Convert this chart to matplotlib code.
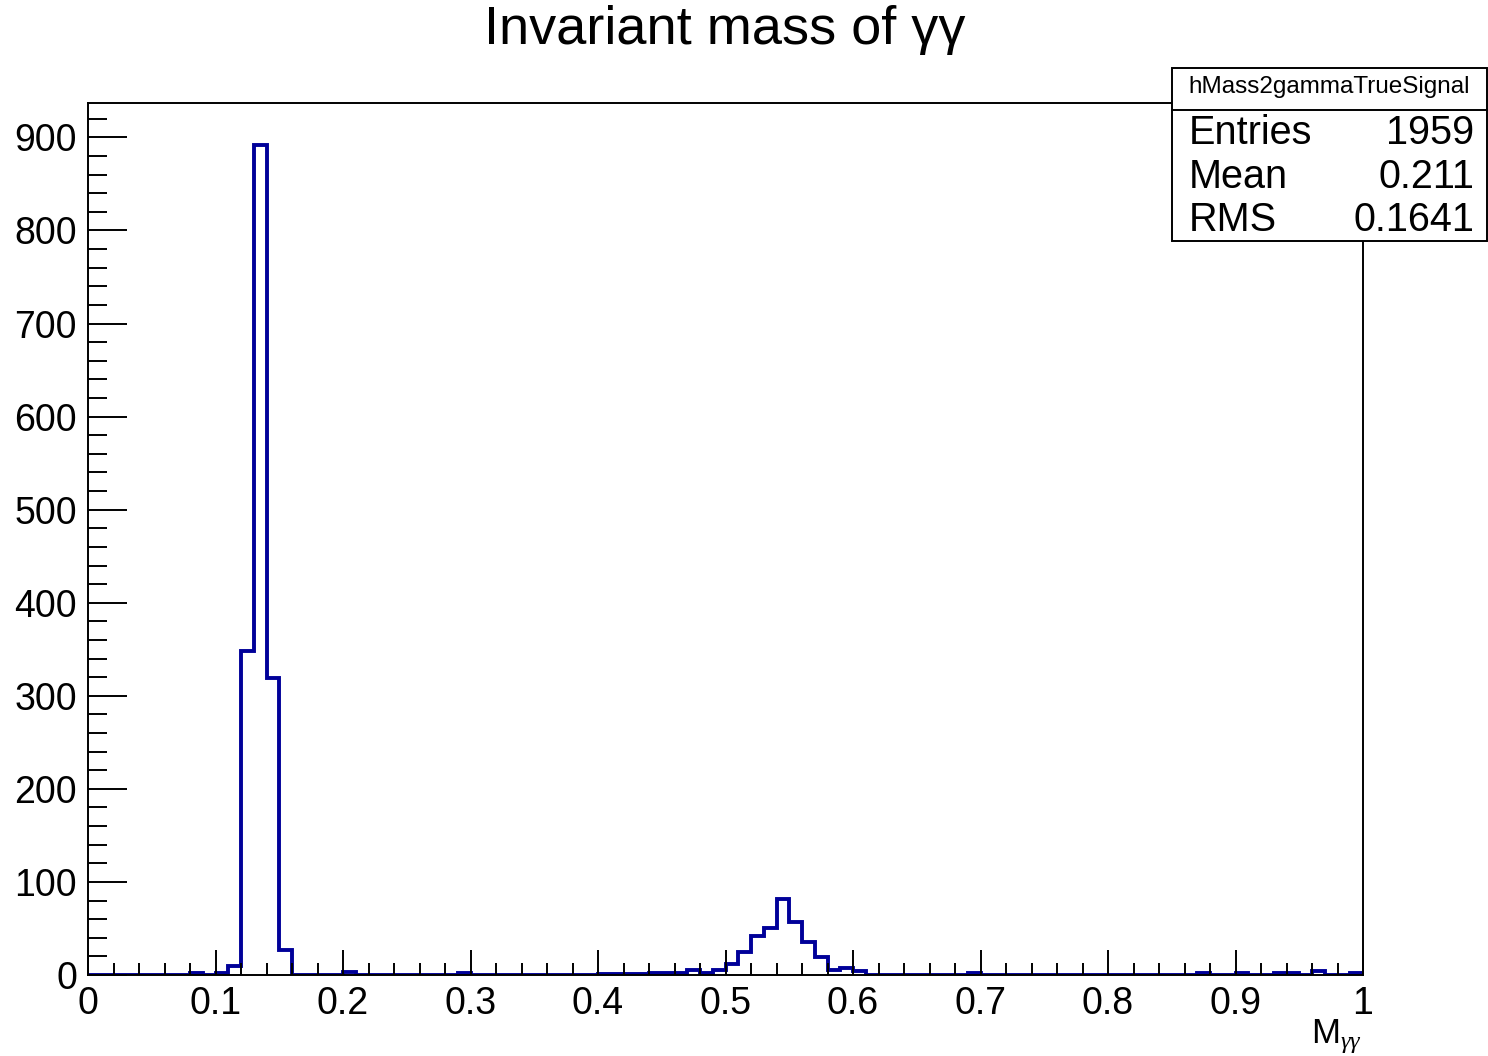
import matplotlib
matplotlib.use('Agg')
import matplotlib.pyplot as plt
import numpy as np
from matplotlib.patches import Rectangle
from matplotlib.ticker import MultipleLocator

plt.rcParams['font.family'] = ['Liberation Sans', 'DejaVu Sans']
plt.rcParams['mathtext.fontset'] = 'custom'
plt.rcParams['mathtext.rm'] = 'Liberation Sans'
plt.rcParams['mathtext.it'] = 'Liberation Serif:italic'

# 100 bins on [0, 1], counts
bin_edges = np.linspace(0.0, 1.0, 101)
counts = np.zeros(100)
filled_bins = [8, 10, 11, 12, 13, 14, 15, 20, 29,
               40, 41, 42, 43, 44, 45, 46, 47, 48, 49,
               50, 51, 52, 53, 54, 55, 56, 57, 58, 59, 60,
               69, 87, 90, 93, 94, 96, 99]
filled_counts = [2, 2, 10, 348, 892, 319, 27, 3, 2,
                 1, 1, 1, 1, 2, 2, 2, 5, 2, 5,
                 12, 25, 42, 51, 82, 57, 35, 19, 5, 8, 4,
                 2, 2, 2, 2, 2, 4, 2]
counts[filled_bins] = filled_counts

hist_name = "hMass2gammaTrueSignal"
stat_names = ["Entries", "Mean", "RMS"]
stat_values = ["1959", "0.211", "0.1641"]
xtick_labels = ['0', '0.1', '0.2', '0.3', '0.4', '0.5', '0.6', '0.7', '0.8', '0.9', '1']

W, H = 1488, 1056
fig = plt.figure(figsize=(W / 100, H / 100), dpi=100)
ax = fig.add_axes([88 / W, 1 - 975 / H, (1363 - 88) / W, (975 - 103) / H])

ax.stairs(counts, bin_edges, baseline=0, color='#000099', linewidth=2.8)
ax.set_xlim(0, 1)
ax.set_ylim(0, 937)

# ROOT-like axes: ticks inside, only on bottom and left
for s in ax.spines.values():
    s.set_linewidth(1.4)
ax.set_xticks(np.arange(0, 1.01, 0.1))
ax.set_xticklabels(xtick_labels)
ax.xaxis.set_minor_locator(MultipleLocator(0.02))
ax.yaxis.set_major_locator(MultipleLocator(100))
ax.yaxis.set_minor_locator(MultipleLocator(20))
ax.tick_params(axis='x', which='major', direction='in', length=18, width=1.4,
               labelsize=27, pad=8)
ax.tick_params(axis='x', which='minor', direction='in', length=9, width=1.4)
ax.tick_params(axis='y', which='major', direction='in', length=28, width=1.4,
               labelsize=27, pad=8)
ax.tick_params(axis='y', which='minor', direction='in', length=14, width=1.4)

fig.text(1362 / W, 1 - 1036 / H, r'M$_{\gamma\gamma}$', fontsize=25,
         ha='right', va='center')

fig.text(725 / W, 1 - 30 / H, 'Invariant mass of γγ', fontsize=39,
         ha='center', va='center')

# stats box
bx0, bx1, by_top, by_head, by_bot = 1172, 1487, 68, 110, 241
fig.patches.append(Rectangle((bx0 / W, 1 - by_bot / H), (bx1 - bx0) / W,
                             (by_bot - by_top) / H, transform=fig.transFigure,
                             facecolor='white', edgecolor='black', linewidth=1.4,
                             zorder=5))
fig.add_artist(plt.Line2D([bx0 / W, bx1 / W], [1 - by_head / H, 1 - by_head / H],
                          transform=fig.transFigure, color='black', linewidth=1.4,
                          zorder=6))
fig.text((bx0 + bx1) / 2 / W, 1 - 87 / H, hist_name, fontsize=17.5,
         ha='center', va='center', zorder=7)
row_y = [133, 177, 220]
for name, val, y in zip(stat_names, stat_values, row_y):
    fig.text(1189 / W, 1 - y / H, name, fontsize=28.5, ha='left', va='center', zorder=7)
    fig.text(1474 / W, 1 - y / H, val, fontsize=28.5, ha='right', va='center', zorder=7)

fig.savefig('out.png', dpi=100)
